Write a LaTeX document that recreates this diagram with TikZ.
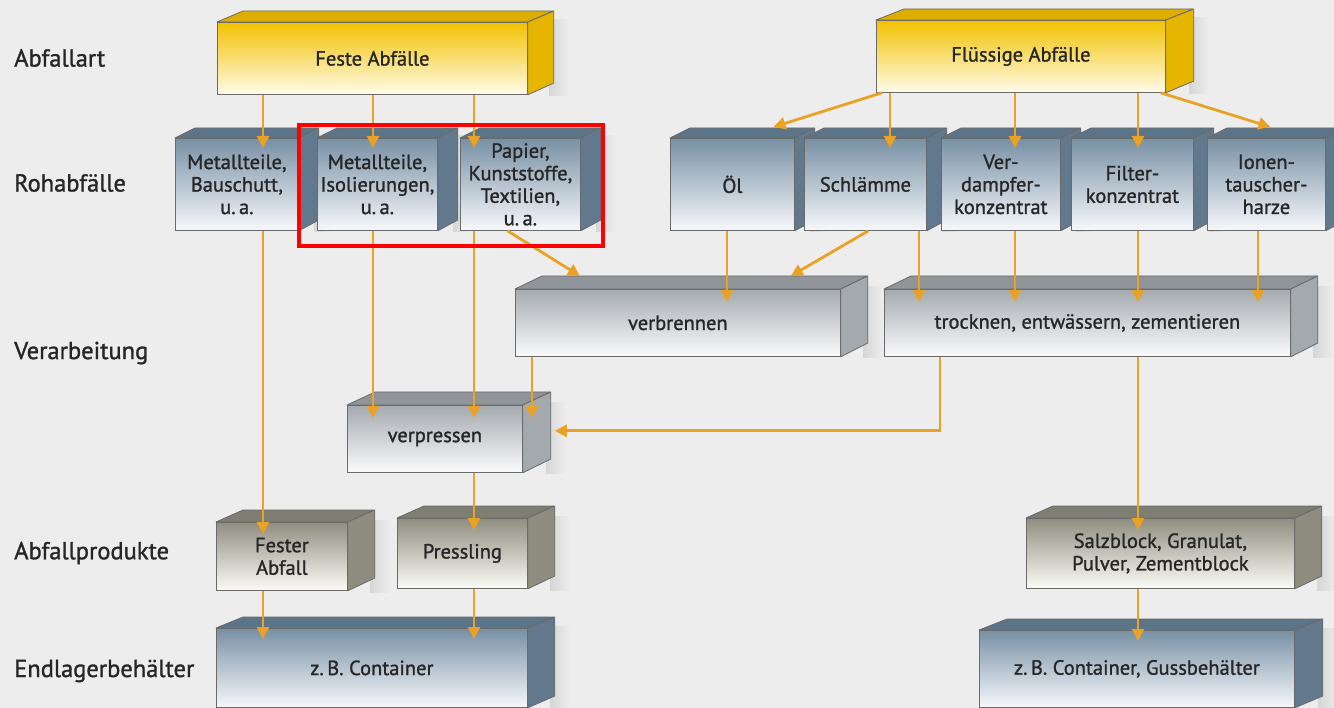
\documentclass[tikz,border=0pt]{standalone}
\usepackage{fontspec}
\setmainfont{PT Sans}
\newfontfamily\medfont{PT Sans}[FakeBold=1.2]
\usetikzlibrary{arrows.meta,calc}
\definecolor{bg}{HTML}{EDEDED}
\definecolor{edge}{HTML}{6A6A6A}
\definecolor{txt}{HTML}{262626}
\definecolor{arrc}{HTML}{E9A224}
\definecolor{yA}{HTML}{F2C200}
\definecolor{yB}{HTML}{FFFBEA}
\definecolor{yT}{HTML}{DDAE00}
\definecolor{yS}{HTML}{E6B500}
\definecolor{bA}{HTML}{7890A4}
\definecolor{bB}{HTML}{F6F8FB}
\definecolor{bT}{HTML}{5B7488}
\definecolor{bS}{HTML}{62798D}
\definecolor{gA}{HTML}{A5AAAF}
\definecolor{gB}{HTML}{FBFBFC}
\definecolor{gT}{HTML}{90959A}
\definecolor{gS}{HTML}{A4A9AE}
\definecolor{oA}{HTML}{908E80}
\definecolor{oB}{HTML}{FBFBF6}
\definecolor{oT}{HTML}{7F7E72}
\definecolor{oS}{HTML}{8E8D80}
\tikzset{
  box/.style={draw=edge, line width=0.8pt, align=center, inner sep=0pt, text=txt,
    font=\medfont\fontsize{20.5}{22.5}\selectfont, anchor=north west},
  yfront/.style={top color=yA, bottom color=yB},
  ytop/.style={fill=yT}, yside/.style={fill=yS},
  bfront/.style={top color=bA, bottom color=bB},
  btop/.style={fill=bT}, bside/.style={fill=bS},
  gfront/.style={top color=gA, bottom color=gB},
  gtop/.style={fill=gT}, gside/.style={fill=gS},
  ofront/.style={top color=oA, bottom color=oB},
  otop/.style={fill=oT}, oside/.style={fill=oS},
  rowlabel/.style={anchor=west, text=txt, font=\medfont\fontsize{24.5}{28}\selectfont, inner sep=0pt},
  arr/.style={draw=arrc, line width=2.8pt, -{Triangle[length=12pt,width=12pt]}},
  shadowstrip/.style={left color=black!16, right color=bg},
}
% name, x, y, w, h, dx, dy, kind, text
\newcommand\blk[9]{%
  \shade[shadowstrip] ({#2+#4+#6-4},{-#3+2}) rectangle ({#2+#4+#6+16},{-#3-#5-2});
  \node[box,#8front,minimum width=#4pt,minimum height=#5pt] (#1) at (#2,-#3) {#9};
  \filldraw[#8top,draw=edge,line width=0.8pt,line join=round] (#1.north west) -- ++(#6,#7) -- ++(#4,0) -- (#1.north east) -- cycle;
  \filldraw[#8side,draw=edge,line width=0.8pt,line join=round] (#1.north east) -- ++(#6,#7) -- ++(0,-#5) -- (#1.south east) -- cycle;
}
\begin{document}
\begin{tikzpicture}[x=1pt,y=1pt]
\useasboundingbox (0,0) rectangle (1334,-708);
\clip (0,0) rectangle (1334,-708);
\fill[bg] (0,0) rectangle (1334,-708);

% row labels
\node[rowlabel] (l1) at (14,-58) {Abfallart};
\node[rowlabel] (l2) at (14,-183) {Rohabfälle};
\node[rowlabel] (l3) at (14,-353) {Verarbeitung};
\node[rowlabel] (l4) at (14,-553) {Abfallprodukte};
\node[rowlabel] (l5) at (14,-671) {Endlagerbehälter};

% row 1
\blk{feste}{217}{22}{310}{72}{26}{11}{y}{Feste Abfälle}
\blk{fluessig}{876}{20}{289}{72}{28}{11}{y}{Flüssige Abfälle}

% row 2
\blk{mb}{175}{138}{123}{92}{20}{10}{b}{Metallteile,\\Bauschutt,\\u.\,a.}
\blk{mi}{317}{138}{120}{92}{20}{10}{b}{Metallteile,\\Isolierungen,\\u.\,a.}
\blk{pk}{460}{138}{120}{92}{20}{10}{b}{Papier,\\Kunststoffe,\\Textilien,\\u.\,a.}
\blk{oel}{670}{138}{124}{92}{20}{10}{b}{Öl}
\blk{schl}{804}{138}{122}{92}{20}{10}{b}{Schlämme}
\blk{verd}{941}{138}{119}{92}{20}{10}{b}{Ver-\\dampfer-\\konzentrat}
\blk{filt}{1071}{138}{122}{92}{20}{10}{b}{Filter-\\konzentrat}
\blk{ion}{1207}{138}{118}{92}{20}{10}{b}{Ionen-\\tauscher-\\harze}

% row 3
\blk{verb}{515}{289}{325}{67}{27}{13}{g}{verbrennen}
\blk{trock}{884}{289}{406}{67}{27}{13}{g}{trocknen, entwässern, zementieren}
\blk{verp}{347}{405}{175}{67}{28}{13}{g}{verpressen}

% row 4
\blk{fest}{216}{522}{131}{68}{27}{12}{o}{Fester\\Abfall}
\blk{press}{397}{518}{130}{70}{27}{12}{o}{Pressling}
\blk{salz}{1026}{518}{268}{70}{27}{12}{o}{Salzblock, Granulat,\\Pulver, Zementblock}

% row 5
\blk{cont}{216}{628}{311}{79}{27}{11}{b}{z.\,B. Container}
\blk{guss}{979}{630}{315}{77}{28}{11}{b}{z.\,B. Container, Gussbehälter}

% arrows row1 -> row2
\draw[arr,shorten >=-10pt] (feste.south -| 263,0) -- (mb.north -| 263,0);
\draw[arr,shorten >=-10pt] (feste.south -| 373,0) -- (mi.north -| 373,0);
\draw[arr,shorten >=-10pt] (feste.south -| 474,0) -- (pk.north -| 474,0);
\draw[arr] ($(fluessig.south west)+(6,0)$) -- ($(oel.north)+(41,11)$);
\draw[arr,shorten >=-10pt] (fluessig.south -| 890,0) -- (schl.north -| 890,0);
\draw[arr,shorten >=-10pt] (fluessig.south -| 1015,0) -- (verd.north -| 1015,0);
\draw[arr,shorten >=-10pt] (fluessig.south -| 1138,0) -- (filt.north -| 1138,0);
\draw[arr] ($(fluessig.south east)+(-5,0)$) -- ($(ion.north)+(4,11)$);

% row2 -> row3/4
\draw[arr,shorten >=-12pt] (mb.south -| 263,0) -- (fest.north -| 263,0);
\draw[arr,shorten >=-13pt] (mi.south -| 373,0) -- (verp.north -| 373,0);
\draw[arr,shorten >=-13pt] (pk.south -| 474,0) -- (verp.north -| 474,0);
\draw[arr] ($(pk.south)+(-13,0)$) -- ($(verb.north west)+(65,13)$);
\draw[arr,shorten >=-13pt] (oel.south -| 727,0) -- (verb.north -| 727,0);
\draw[arr] ($(schl.south)+(3,0)$) -- ($(verb.north east)+(-50,13)$);
\draw[arr,shorten >=-13pt] (schl.south -| 919,0) -- (trock.north -| 919,0);
\draw[arr,shorten >=-13pt] (verd.south -| 1015,0) -- (trock.north -| 1015,0);
\draw[arr,shorten >=-13pt] (filt.south -| 1138,0) -- (trock.north -| 1138,0);
\draw[arr,shorten >=-13pt] (ion.south -| 1258,0) -- (trock.north -| 1258,0);

% row3 -> row3/4
\draw[arr,shorten >=-13pt] (verb.south -| 532,0) -- (verp.north -| 532,0);
\draw[arr] (trock.south -| 940,0) |- ($(verp.east)+(32,8)$);
\draw[arr,shorten >=-12pt] (trock.south -| 1138,0) -- (salz.north -| 1138,0);
\draw[arr,shorten >=-12pt] (verp.south -| 474,0) -- (press.north -| 474,0);

% row4 -> row5
\draw[arr,shorten >=-11pt] (fest.south -| 263,0) -- (cont.north -| 263,0);
\draw[arr,shorten >=-11pt] (press.south -| 474,0) -- (cont.north -| 474,0);
\draw[arr,shorten >=-11pt] (salz.south -| 1138,0) -- (guss.north -| 1138,0);

% highlight frame
\draw[red, line width=4pt] (299,-125) rectangle (603,-246);
\end{tikzpicture}
\end{document}
